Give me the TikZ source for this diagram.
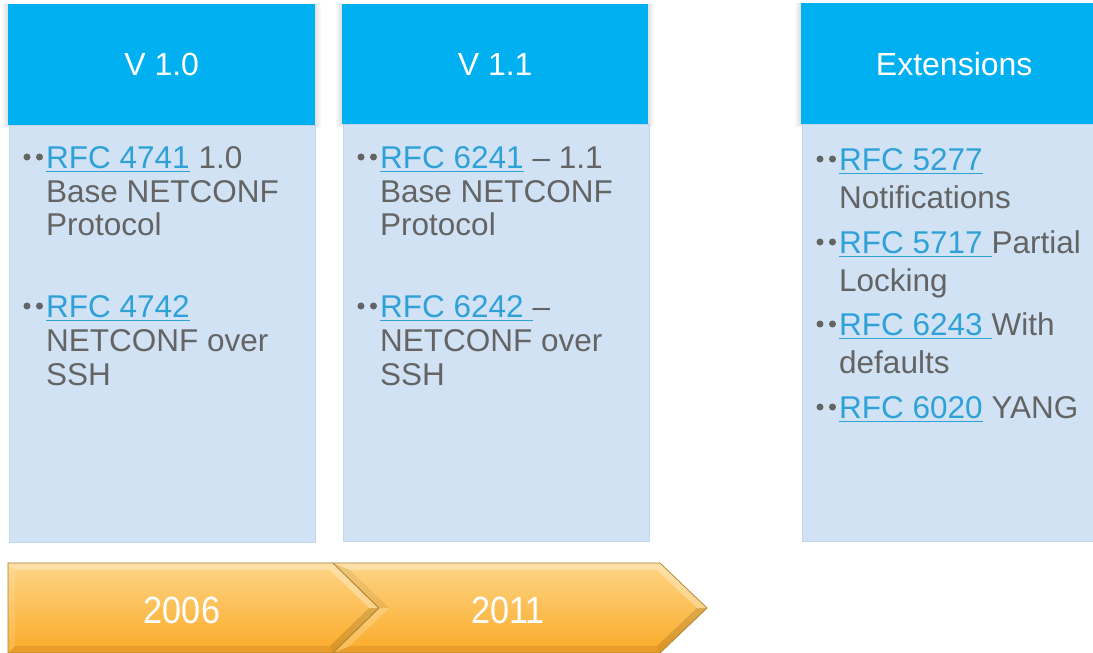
\documentclass[tikz,border=0pt]{standalone}
\usepackage{fontspec}
\setmainfont{Liberation Sans}
\newfontfamily\yearfont[FakeStretch=0.9]{Liberation Sans}
\definecolor{hdrblue}{HTML}{00B0F0}
\definecolor{bodyblue}{HTML}{D0E2F3}
\definecolor{bodyedge}{HTML}{C0D6EE}
\definecolor{txtgrey}{HTML}{646464}
\definecolor{linkblue}{HTML}{2EA2D8}
\definecolor{chevtop}{HTML}{FDD585}
\definecolor{chevbot}{HTML}{FBAA28}
\definecolor{chevedge}{HTML}{A8802F}
\newlength\lkw
\newcommand\lk[1]{\settowidth\lkw{#1}\textcolor{linkblue}{\rlap{\rule[-4pt]{\lkw}{1.1pt}}#1}}
\tikzset{
  hdr/.style={fill=hdrblue, text=white, inner sep=0pt, anchor=north west,
    minimum width=307pt, minimum height=121pt, font=\fontsize{32}{36}\selectfont},
  bodybox/.style={fill=bodyblue, draw=bodyedge, line width=1pt, inner sep=0pt,
    anchor=north west, minimum width=306pt, minimum height=417pt},
  ln/.style={anchor=base west, inner sep=0pt, text=txtgrey,
    font=\fontsize{31.5}{34}\selectfont},
  dotb/.style={circle, fill=txtgrey, inner sep=0pt, minimum size=7pt},
  shade1/.style={fill=black, opacity=0.018},
  lite/.style={fill=white, opacity=0.3},
  dark/.style={fill=black, opacity=0.08},
  yr/.style={text=white, inner sep=0pt, anchor=base, font=\yearfont\fontsize{38}{40}\selectfont},
}
\newcommand\bul[2]{%
  \node[dotb] at (#1,#2) {};
  \node[dotb] at (#1+12.5,#2) {};}
\begin{document}
\begin{tikzpicture}[x=1pt,y=-1pt]
\useasboundingbox (0,0) rectangle (1093,653);
\clip (0,0) rectangle (1093,653);
% soft shadows of headers
\foreach \e in {1,2,3,4,5,6}{
  \fill[shade1] (8-\e,4) rectangle (315+\e,125+0.5*\e);
  \fill[shade1] (342-\e,4) rectangle (648+\e,124+0.5*\e);
  \fill[shade1] (801-\e,3) rectangle (1107+\e,124+0.5*\e);
}
% body boxes
\node[bodybox] (bodyA) at (8.5,125) {};
\node[bodybox] (bodyB) at (342.5,124) {};
\node[bodybox] (bodyC) at (801.5,124) {};
% headers
\node[hdr] (hdrA) at (8,4) {V 1.0};
\node[hdr, minimum width=306pt, minimum height=120pt] (hdrB) at (342,4) {V 1.1};
\node[hdr, minimum width=306pt, minimum height=121pt] (hdrC) at (801,3) {Extensions};
% column 1
\bul{27}{157}
\node[ln] (a1) at (46,168) {\lk{RFC 4741} 1.0};
\node[ln] (a2) at (46,202) {Base NETCONF};
\node[ln] (a3) at (46,235) {Protocol};
\bul{27}{306}
\node[ln] (a4) at (46,317) {\lk{RFC 4742}};
\node[ln] (a5) at (46,351) {NETCONF over};
\node[ln] (a6) at (46,385) {SSH};
% column 2
\bul{361}{157}
\node[ln] (b1) at (380,168) {\lk{RFC 6241} -- 1.1};
\node[ln] (b2) at (380,202) {Base NETCONF};
\node[ln] (b3) at (380,235) {Protocol};
\bul{361}{306}
\node[ln] (b4) at (380,317) {\lk{RFC 6242\ }--};
\node[ln] (b5) at (380,351) {NETCONF over};
\node[ln] (b6) at (380,385) {SSH};
% column 3
\bul{820}{159}
\node[ln] (c1) at (839,170) {\lk{RFC 5277}};
\node[ln] (c2) at (839,208) {Notifications};
\bul{820}{242}
\node[ln] (c3) at (839,253) {\lk{RFC 5717\ }Partial};
\node[ln] (c4) at (839,291) {Locking};
\bul{820}{324}
\node[ln] (c5) at (839,335) {\lk{RFC 6243\ }With};
\node[ln] (c6) at (839,373) {defaults};
\bul{820}{407}
\node[ln] (c7) at (839,418) {\lk{RFC 6020} YANG};
% chevron 1
\coordinate (p1) at (8,563);  \coordinate (p2) at (333,563);
\coordinate (p3) at (379,608); \coordinate (p4) at (333,653);
\coordinate (p5) at (8,653);
\coordinate (i1) at (15,570);  \coordinate (i2) at (330,570);
\coordinate (i3) at (369,608); \coordinate (i4) at (330,646);
\coordinate (i5) at (15,646);
\shade[top color=chevtop, bottom color=chevbot] (p1) -- (p2) -- (p3) -- (p4) -- (p5) -- cycle;
\fill[lite] (p1) -- (p2) -- (i2) -- (i1) -- cycle;
\fill[lite] (p2) -- (p3) -- (i3) -- (i2) -- cycle;
\fill[dark, opacity=0.12] (p3) -- (p4) -- (i4) -- (i3) -- cycle;
\fill[dark] (p4) -- (p5) -- (i5) -- (i4) -- cycle;
\fill[lite, opacity=0.12] (p5) -- (p1) -- (i1) -- (i5) -- cycle;
\draw[chevedge, line width=0.7pt, line join=miter] (p1) -- (p2) -- (p3) -- (p4) -- (p5) -- cycle;
% chevron 2
\coordinate (q1) at (333,563); \coordinate (q2) at (660,563);
\coordinate (q3) at (707,608); \coordinate (q4) at (660,653);
\coordinate (q5) at (333,653); \coordinate (q6) at (379,608);
\coordinate (j1) at (350,570); \coordinate (j2) at (657,570);
\coordinate (j3) at (697,608); \coordinate (j4) at (657,646);
\coordinate (j5) at (350,646); \coordinate (j6) at (389,608);
\shade[top color=chevtop, bottom color=chevbot] (q1) -- (q2) -- (q3) -- (q4) -- (q5) -- (q6) -- cycle;
\fill[lite] (q1) -- (q2) -- (j2) -- (j1) -- cycle;
\fill[lite] (q2) -- (q3) -- (j3) -- (j2) -- cycle;
\fill[dark, opacity=0.12] (q3) -- (q4) -- (j4) -- (j3) -- cycle;
\fill[dark] (q4) -- (q5) -- (j5) -- (j4) -- cycle;
\fill[dark, opacity=0.06] (q6) -- (q1) -- (j1) -- (j6) -- cycle;
\fill[lite, opacity=0.2] (q5) -- (q6) -- (j6) -- (j5) -- cycle;
\draw[chevedge, line width=0.7pt, line join=miter] (q1) -- (q2) -- (q3) -- (q4) -- (q5) -- (q6) -- cycle;
\node[yr] (y2006) at (182,623) {2006};
\node[yr] (y2011) at (508,623) {2011};
\end{tikzpicture}
\end{document}
